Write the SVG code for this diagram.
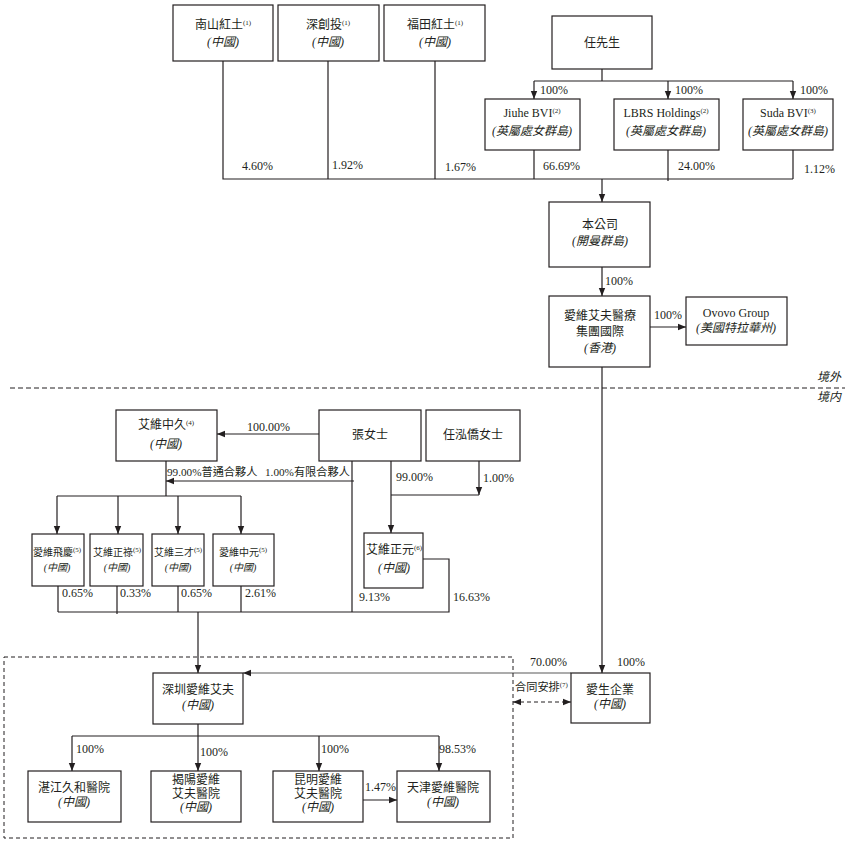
<svg xmlns="http://www.w3.org/2000/svg" width="861" height="847" viewBox="0 0 861 847">
<style>
.bx{fill:#fff;stroke:#231f20;stroke-width:1.2}
.ln{fill:none;stroke:#231f20;stroke-width:1.2}
.ar{fill:none;stroke:#231f20;stroke-width:1.2;marker-end:url(#ah)}
.t{font-family:"Liberation Serif","Noto Sans CJK TC",serif;font-size:12px;fill:#231f20;text-anchor:middle}
.s{font-size:10px}
.i{font-style:italic}
.p{font-family:"Liberation Serif","Noto Sans CJK TC",serif;font-size:12px;fill:#231f20}
.q{font-size:11.2px}
.sup{font-size:7px}
</style>
<defs>
<marker id="ah" markerWidth="9" markerHeight="8" refX="8" refY="4" orient="auto" markerUnits="userSpaceOnUse"><path d="M0,0.8 L8,4 L0,7.2 z" fill="#231f20"/></marker>
<marker id="ahs" markerWidth="9" markerHeight="8" refX="8" refY="4" orient="auto-start-reverse" markerUnits="userSpaceOnUse"><path d="M0,0.8 L8,4 L0,7.2 z" fill="#231f20"/></marker>
</defs>
<rect width="861" height="847" fill="#fff"/>

<g id="connectors">
<path class="ln" d="M223,61V179H793M328,61V179M435,61V179M534,150V179M668,150V181M793,150V179"/>
<path class="ar" d="M602,179V202"/>
<path class="ln" d="M602,69V81M534,81H793"/>
<path class="ar" d="M534,81V99"/>
<path class="ar" d="M668,81V99"/>
<path class="ar" d="M793,81V99"/>
<path class="ar" d="M602,267V296"/>
<path class="ar" d="M650,327H686"/>
<path class="ar" d="M602,367V673"/>
<path d="M10,388H845" fill="none" stroke="#231f20" stroke-width="1" stroke-dasharray="5,3"/>
<path class="ar" d="M319,434H217"/>
<path class="ln" d="M166,461V496M57,496H241"/>
<path class="ar" d="M57,496V534"/>
<path class="ar" d="M118,496V534"/>
<path class="ar" d="M178,496V534"/>
<path class="ar" d="M241,496V534"/>
<path class="ln" d="M352,461V612"/>
<path class="ar" d="M354,481H166"/>
<path class="ar" d="M391,461V533"/>
<path class="ar" d="M479,461V495"/>
<path class="ln" d="M391,495H479"/>
<path class="ln" d="M423,559H449V612H58M58,586V612M117,586V614M178,586V612M241,586V612"/>
<path class="ar" d="M198,612V673"/>
<path d="M571,673H243" fill="none" stroke="#8f8f8f" stroke-width="1.4" marker-end="url(#ah)"/>
<path d="M513,702H571" fill="none" stroke="#231f20" stroke-width="1" stroke-dasharray="4,3" marker-end="url(#ahs)" marker-start="url(#ahs)"/>
<path class="ln" d="M198,724V736M72,736H439"/>
<path class="ar" d="M72,736V771"/>
<path class="ar" d="M198,736V771"/>
<path class="ar" d="M319,736V771"/>
<path class="ar" d="M439,736V771"/>
<path class="ar" d="M363,800H397"/>
<rect x="4" y="657" width="509" height="181" fill="none" stroke="#231f20" stroke-width="1" stroke-dasharray="4,3"/>
</g>

<g id="labels">
<text class="p" x="242" y="170">4.60%</text>
<text class="p" x="332" y="169">1.92%</text>
<text class="p" x="445" y="171">1.67%</text>
<text class="p" x="543" y="170">66.69%</text>
<text class="p" x="678" y="170">24.00%</text>
<text class="p" x="804" y="173">1.12%</text>
<text class="p" x="540" y="94">100%</text>
<text class="p" x="675" y="94">100%</text>
<text class="p" x="800" y="94">100%</text>
<text class="p" x="605" y="285">100%</text>
<text class="p" x="654" y="319">100%</text>
<text class="p i" x="841" y="381" text-anchor="end">境外</text>
<text class="p i" x="841" y="401" text-anchor="end">境内</text>
<text class="p" x="247" y="431">100.00%</text>
<text class="p q" x="167" y="476">99.00%普通合夥人</text>
<text class="p q" x="265" y="476">1.00%有限合夥人</text>
<text class="p" x="396" y="481">99.00%</text>
<text class="p" x="483" y="482">1.00%</text>
<text class="p" x="62" y="597">0.65%</text>
<text class="p" x="120" y="597">0.33%</text>
<text class="p" x="181" y="597">0.65%</text>
<text class="p" x="245" y="597">2.61%</text>
<text class="p" x="359" y="601">9.13%</text>
<text class="p" x="453" y="601">16.63%</text>
<text class="p" x="530" y="666">70.00%</text>
<text class="p" x="617" y="666">100%</text>
<text class="p q" x="515" y="691">合同安排<tspan class="sup" dy="-4">(7)</tspan></text>
<text class="p" x="76" y="753">100%</text>
<text class="p" x="200" y="756">100%</text>
<text class="p" x="321" y="753">100%</text>
<text class="p" x="439" y="753">98.53%</text>
<text class="p" x="365" y="791">1.47%</text>
</g>

<g id="n-nanshan"><rect class="bx" x="173" y="5" width="100" height="56"/><text class="t" x="223" y="29">南山紅土<tspan class="sup" dy="-4">(1)</tspan></text><text class="t i" x="223" y="46">(中國)</text></g>
<g id="n-shenchuangtou"><rect class="bx" x="278" y="5" width="101" height="56"/><text class="t" x="328" y="29">深創投<tspan class="sup" dy="-4">(1)</tspan></text><text class="t i" x="328" y="46">(中國)</text></g>
<g id="n-futian"><rect class="bx" x="384" y="5" width="101" height="56"/><text class="t" x="435" y="29">福田紅土<tspan class="sup" dy="-4">(1)</tspan></text><text class="t i" x="435" y="46">(中國)</text></g>
<g id="n-ren"><rect class="bx" x="552" y="16" width="100" height="53"/><text class="t" x="602" y="47">任先生</text></g>
<g id="n-jiuhe"><rect class="bx" x="485" y="99" width="95" height="51"/><text class="t" x="532" y="117">Jiuhe BVI<tspan class="sup" dy="-4">(2)</tspan></text><text class="t i" x="532" y="135">(英屬處女群島)</text></g>
<g id="n-lbrs"><rect class="bx" x="614" y="99" width="105" height="51"/><text class="t" x="666" y="117">LBRS Holdings<tspan class="sup" dy="-4">(2)</tspan></text><text class="t i" x="666" y="135">(英屬處女群島)</text></g>
<g id="n-suda"><rect class="bx" x="743" y="99" width="90" height="51"/><text class="t" x="788" y="117">Suda BVI<tspan class="sup" dy="-4">(3)</tspan></text><text class="t i" x="788" y="135">(英屬處女群島)</text></g>
<g id="n-company"><rect class="bx" x="549" y="202" width="101" height="65"/><text class="t" x="600" y="229">本公司</text><text class="t i" x="600" y="245">(開曼群島)</text></g>
<g id="n-hk"><rect class="bx" x="549" y="296" width="101" height="71"/><text class="t" x="600" y="320">愛維艾夫醫療</text><text class="t" x="600" y="336">集團國際</text><text class="t i" x="600" y="352">(香港)</text></g>
<g id="n-ovovo"><rect class="bx" x="686" y="297" width="101" height="48"/><text class="t" x="736" y="317">Ovovo Group</text><text class="t i" x="736" y="332">(美國特拉華州)</text></g>
<g id="n-zhongjiu"><rect class="bx" x="116" y="410" width="101" height="51"/><text class="t" x="166" y="429">艾維中久<tspan class="sup" dy="-4">(4)</tspan></text><text class="t i" x="166" y="448">(中國)</text></g>
<g id="n-zhang"><rect class="bx" x="319" y="410" width="102" height="51"/><text class="t" x="370" y="439">張女士</text></g>
<g id="n-renhq"><rect class="bx" x="426" y="410" width="94" height="51"/><text class="t" x="473" y="439">任泓僑女士</text></g>
<g id="n-feiqing"><rect class="bx" x="32" y="534" width="52" height="52"/><text class="t s" x="57" y="556">愛維飛慶<tspan class="sup" dy="-4">(5)</tspan></text><text class="t s i" x="57" y="571">(中國)</text></g>
<g id="n-zhenglu"><rect class="bx" x="90" y="534" width="53" height="52"/><text class="t s" x="117" y="556">艾維正祿<tspan class="sup" dy="-4">(5)</tspan></text><text class="t s i" x="117" y="571">(中國)</text></g>
<g id="n-sancai"><rect class="bx" x="152" y="534" width="52" height="52"/><text class="t s" x="178" y="556">艾維三才<tspan class="sup" dy="-4">(5)</tspan></text><text class="t s i" x="178" y="571">(中國)</text></g>
<g id="n-zhongyuan"><rect class="bx" x="213" y="534" width="61" height="52"/><text class="t s" x="243" y="556">愛維中元<tspan class="sup" dy="-4">(5)</tspan></text><text class="t s i" x="243" y="571">(中國)</text></g>
<g id="n-zhengyuan"><rect class="bx" x="364" y="533" width="59" height="55"/><text class="t" x="394" y="554">艾維正元<tspan class="sup" dy="-4">(6)</tspan></text><text class="t i" x="394" y="572">(中國)</text></g>
<g id="n-shenzhen"><rect class="bx" x="153" y="673" width="90" height="51"/><text class="t" x="198" y="694">深圳愛維艾夫</text><text class="t i" x="198" y="709">(中國)</text></g>
<g id="n-aisheng"><rect class="bx" x="571" y="673" width="79" height="50"/><text class="t" x="610" y="694">愛生企業</text><text class="t i" x="610" y="708">(中國)</text></g>
<g id="n-zhanjiang"><rect class="bx" x="28" y="771" width="93" height="51"/><text class="t" x="74" y="792">湛江久和醫院</text><text class="t i" x="74" y="806">(中國)</text></g>
<g id="n-jieyang"><rect class="bx" x="151" y="771" width="90" height="51"/><text class="t" x="196" y="784">揭陽愛維</text><text class="t" x="196" y="798">艾夫醫院</text><text class="t i" x="196" y="811">(中國)</text></g>
<g id="n-kunming"><rect class="bx" x="273" y="771" width="90" height="51"/><text class="t" x="318" y="784">昆明愛維</text><text class="t" x="318" y="798">艾夫醫院</text><text class="t i" x="318" y="811">(中國)</text></g>
<g id="n-tianjin"><rect class="bx" x="397" y="771" width="93" height="51"/><text class="t" x="443" y="792">天津愛維醫院</text><text class="t i" x="443" y="806">(中國)</text></g>
</svg>
